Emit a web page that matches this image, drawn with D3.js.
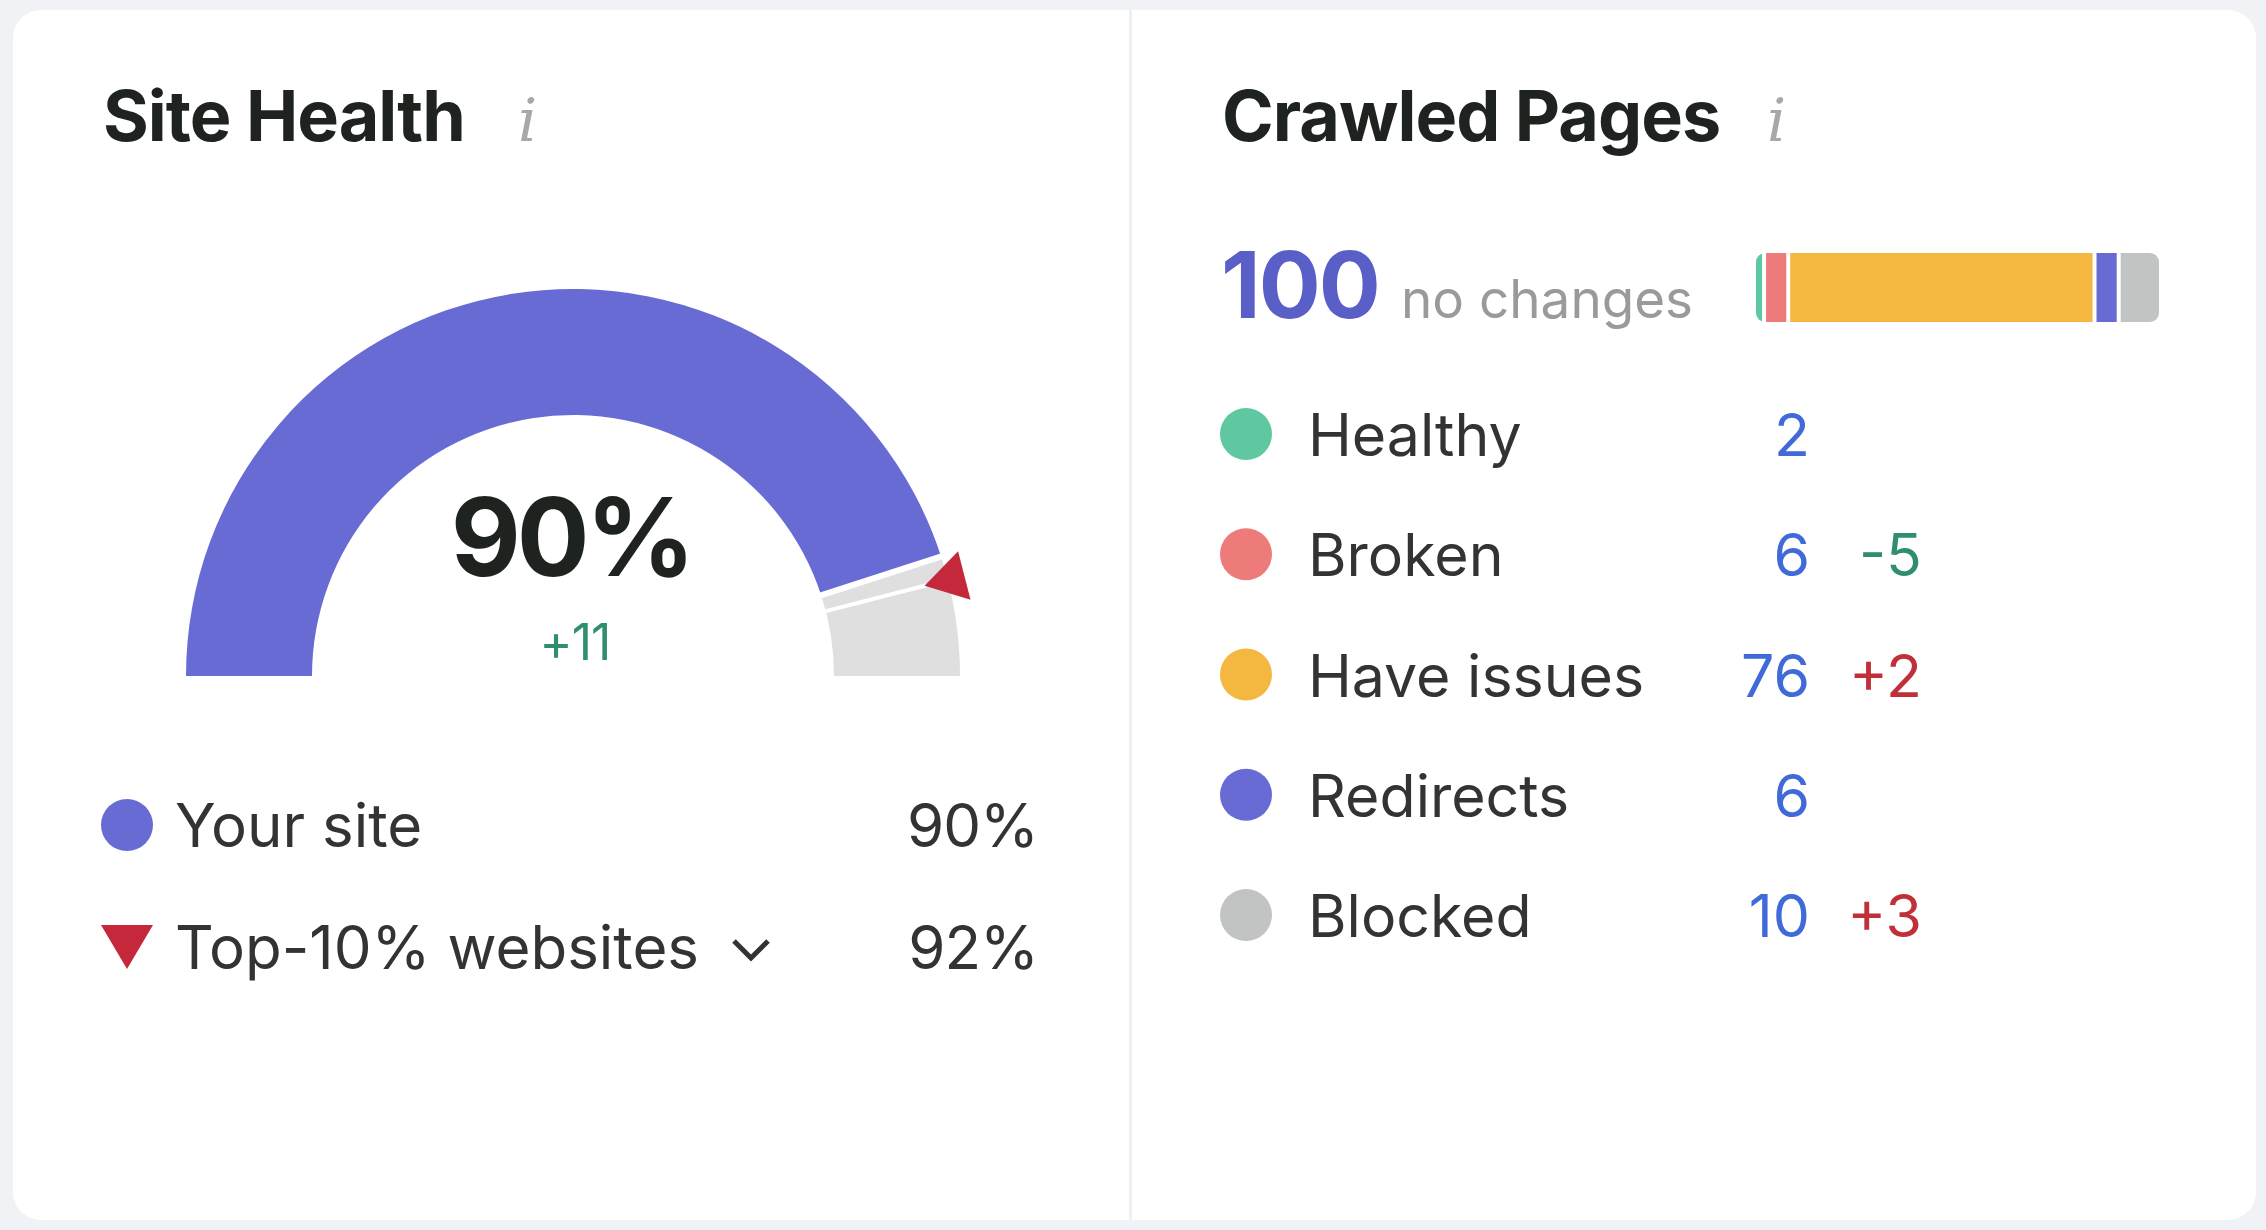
<!DOCTYPE html>
<html>
<head>
<meta charset="utf-8">
<script src="https://cdn.jsdelivr.net/npm/d3@7"></script>
<style>
  html, body { margin: 0; padding: 0; background: #f1f2f6; }
  svg { display: block; font-family: Inter, "Noto Sans", sans-serif; }
</style>
</head>
<body>
<div id="chart"></div>
<script>
// site health data
var healthValue = 90;
var healthChange = 11;
var topValue = 92;
var healthLabels = ["Your site", "Top-10% websites"];
var healthValues = [90, 92];

// crawled pages data
var pageTotal = 100;
var pageNote = "no changes";
var pageCategories = ["Healthy", "Broken", "Have issues", "Redirects", "Blocked"];
var pageCounts = [2, 6, 76, 6, 10];
var pageChanges = [null, -5, 2, null, 3];
var pageColors = ["#5ec9a0", "#ec7b79", "#f4b740", "#686bd4", "#c2c3c3"];

var W = 2266, H = 1230;
var svg = d3.select("#chart").append("svg")
    .attr("width", W)
    .attr("height", H);

// card
svg.append("rect")
    .attr("x", 13).attr("y", 10)
    .attr("width", 2243).attr("height", 1210)
    .attr("rx", 28)
    .attr("fill", "#fff");
svg.append("rect")
    .attr("x", 1129).attr("y", 10)
    .attr("width", 3).attr("height", 1210)
    .attr("fill", "#eef0f4");

function title(x, txt, ix) {
    svg.append("text")
        .attr("x", x).attr("y", 141)
        .attr("font-size", 70).attr("font-weight", 700)
        .attr("fill", "#1f2320")
        .attr("letter-spacing", -1)
        .text(txt);
    svg.append("text")
        .attr("x", ix).attr("y", 141)
        .attr("font-size", 60).attr("font-style", "italic")
        .attr("font-family", "'DejaVu Serif', serif")
        .attr("fill", "#a8a8a8")
        .text("i");
}
title(103, "Site Health", 518);
title(1222, "Crawled Pages", 1767);

// ---- gauge ----
var cx = 573, cy = 676, rOut = 387, rIn = 261;
var g = svg.append("g").attr("transform", "translate(" + cx + "," + cy + ")");
var angle = d3.scaleLinear().domain([0, 100]).range([-Math.PI / 2, Math.PI / 2]);
var arc = d3.arc().innerRadius(rIn).outerRadius(rOut);

g.append("path")
    .attr("d", arc({startAngle: angle(0), endAngle: angle(healthValue)}))
    .attr("fill", "#686bd4");
g.append("path")
    .attr("d", arc({startAngle: angle(healthValue), endAngle: angle(100)}))
    .attr("fill", "#dfdfdf");

// white separators
function radial(v, r0, r1, w) {
    var p0 = d3.pointRadial(angle(v), r0), p1 = d3.pointRadial(angle(v), r1);
    g.append("line")
        .attr("x1", p0[0]).attr("y1", p0[1])
        .attr("x2", p1[0]).attr("y2", p1[1])
        .attr("stroke", "#fff").attr("stroke-width", w);
}
radial(healthValue, rIn - 2, rOut + 2, 6);
radial(topValue, rIn - 2, 365, 4);

// top-10% marker
var a = angle(topValue);
var tip = d3.pointRadial(a, 363);
var bm = d3.pointRadial(a, 404);
var nx = Math.cos(a) * 25, ny = Math.sin(a) * 25;
g.append("path")
    .attr("d", "M" + tip[0] + "," + tip[1] +
        "L" + (bm[0] + nx) + "," + (bm[1] + ny) +
        "L" + (bm[0] - nx) + "," + (bm[1] - ny) + "Z")
    .attr("fill", "#c4283a");

svg.append("text")
    .attr("x", 571).attr("y", 576)
    .attr("text-anchor", "middle")
    .attr("font-size", 108).attr("font-weight", 700)
    .attr("letter-spacing", -4)
    .attr("fill", "#1f2320")
    .text(healthValue + "%");
svg.append("text")
    .attr("x", 575).attr("y", 660)
    .attr("text-anchor", "middle")
    .attr("font-size", 50)
    .attr("letter-spacing", -1)
    .attr("fill", "#2f8f6c")
    .text("+" + healthChange);

// left legend
var ly = d3.scaleLinear().domain([0, 1]).range([825, 947]);
svg.append("circle").attr("cx", 127).attr("cy", ly(0)).attr("r", 26).attr("fill", "#686bd4");
svg.append("path")
    .attr("d", "M101," + (ly(1) - 22) + "L153," + (ly(1) - 22) + "L127," + (ly(1) + 22) + "Z")
    .attr("fill", "#c4283a");
healthLabels.forEach(function(d, i) {
    svg.append("text")
        .attr("x", 175).attr("y", ly(i) + 22)
        .attr("font-size", 60).attr("fill", "#333")
        .text(d);
    svg.append("text")
        .attr("x", 1038).attr("y", ly(i) + 22)
        .attr("text-anchor", "end")
        .attr("font-size", 60).attr("fill", "#333")
        .attr("letter-spacing", -1)
        .text(healthValues[i] + "%");
});
svg.append("path")
    .attr("d", "M734," + (ly(1) - 6) + "l17,17l17,-17")
    .attr("fill", "none").attr("stroke", "#333").attr("stroke-width", 5);

// ---- crawled pages ----
svg.append("text")
    .attr("x", 1221).attr("y", 318)
    .attr("font-size", 92).attr("font-weight", 700)
    .attr("fill", "#5a5fc8")
    .attr("letter-spacing", -2)
    .text(pageTotal);
svg.append("text")
    .attr("x", 1401).attr("y", 318)
    .attr("font-size", 53).attr("fill", "#9a9a9a")
    .text(pageNote);

// stacked bar
var bx = d3.scaleLinear().domain([0, pageTotal]).range([1756, 2159]);
var cum = d3.cumsum(pageCounts);
svg.append("clipPath").attr("id", "barclip")
    .append("rect")
    .attr("x", bx(0)).attr("y", 253)
    .attr("width", bx(pageTotal) - bx(0)).attr("height", 69)
    .attr("rx", 9);
svg.append("g").attr("clip-path", "url(#barclip)")
    .selectAll("rect")
    .data(pageCounts)
    .join("rect")
    .attr("x", function(d, i) { return bx(cum[i] - d) + (i > 0 ? 2 : 0); })
    .attr("y", 253)
    .attr("width", function(d, i) {
        return bx(cum[i]) - bx(cum[i] - d) - (i > 0 ? 2 : 0) - (i < pageCounts.length - 1 ? 2 : 0);
    })
    .attr("height", 69)
    .attr("fill", function(d, i) { return pageColors[i]; });

// right legend
var ry = d3.scaleLinear().domain([0, pageCategories.length - 1]).range([434, 915]);
var rows = svg.append("g").selectAll("g")
    .data(pageCategories)
    .join("g")
    .attr("transform", function(d, i) { return "translate(0," + ry(i) + ")"; });
rows.append("circle")
    .attr("cx", 1246).attr("r", 26)
    .attr("fill", function(d, i) { return pageColors[i]; });
rows.append("text")
    .attr("x", 1308).attr("y", 22)
    .attr("font-size", 59).attr("fill", "#333")
    .text(function(d) { return d; });
rows.append("text")
    .attr("x", 1810).attr("y", 22)
    .attr("text-anchor", "end")
    .attr("font-size", 59).attr("fill", "#3f6ad8")
    .text(function(d, i) { return pageCounts[i]; });
rows.append("text")
    .attr("x", 1922).attr("y", 22)
    .attr("text-anchor", "end")
    .attr("font-size", 59)
    .attr("fill", function(d, i) { return pageChanges[i] < 0 ? "#2f8f6c" : "#c0303a"; })
    .text(function(d, i) {
        var c = pageChanges[i];
        if (c == null) return "";
        return c > 0 ? "+" + c : String(c);
    });
</script>
</body>
</html>
